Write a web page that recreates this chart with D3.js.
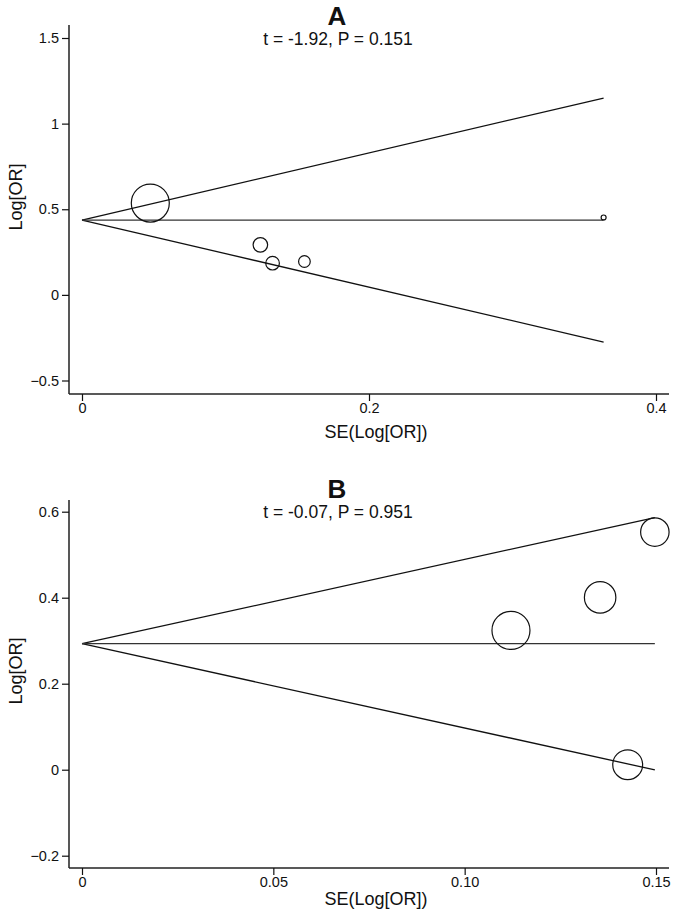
<!DOCTYPE html>
<html><head><meta charset="utf-8">
<script src="https://cdn.jsdelivr.net/npm/d3@7"></script>
<style>body{margin:0;background:#fff}svg{display:block}text{font-family:"Liberation Sans",Arial,sans-serif;fill:#111}</style>
</head><body><svg id="c" width="675" height="913"></svg>
<script>
// Panel A data
const seA = [0.0476, 0.1243, 0.1328, 0.155, 0.3635];
const logorA = [0.536, 0.292, 0.185, 0.195, 0.452];
const pooledA = 0.437;
const yTicksA = [-0.5, 0, 0.5, 1, 1.5];
const yLabelsA = ["\u22120.5", "0", "0.5", "1", "1.5"];
const xTicksA = [0, 0.2, 0.4];
const xLabelsA = ["0", "0.2", "0.4"];
const statA = "t = -1.92, P = 0.151";
// Panel B data
const seB = [0.1121, 0.1354, 0.1426, 0.1497];
const logorB = [0.324, 0.4007, 0.0116, 0.5526];
const pooledB = 0.293;
const yTicksB = [-0.2, 0, 0.2, 0.4, 0.6];
const yLabelsB = ["\u22120.2", "0", "0.2", "0.4", "0.6"];
const xTicksB = [0, 0.05, 0.10, 0.15];
const xLabelsB = ["0", "0.05", "0.10", "0.15"];
const statB = "t = -0.07, P = 0.951";

const svg = d3.select("#c");

function panel(cfg) {
  const g = svg.append("g");
  const x = d3.scaleLinear().domain([cfg.xTicks[0], cfg.xTicks[cfg.xTicks.length-1]]).range([82, 656]);
  const y = d3.scaleLinear().domain([cfg.yTicks[0], cfg.yTicks[cfg.yTicks.length-1]]).range([cfg.yBot, cfg.yTop]);
  const axisX0 = 69, axisX1 = 669;
  g.append("line").attr("x1", axisX0).attr("x2", axisX0).attr("y1", cfg.axTop).attr("y2", cfg.axBot)
    .attr("stroke", "#111").attr("stroke-width", 1.4);
  g.append("line").attr("x1", axisX0).attr("x2", axisX1).attr("y1", cfg.axBot).attr("y2", cfg.axBot)
    .attr("stroke", "#222").attr("stroke-width", 1.4);
  const ya = g.append("g").attr("transform", `translate(${axisX0},0)`)
    .call(d3.axisLeft(y).tickValues(cfg.yTicks).tickSize(7).tickPadding(3)
      .tickFormat((d, i) => cfg.yLabels[i]));
  ya.select(".domain").remove();
  ya.attr("font-size", 14.5);
  ya.selectAll("text").style("font-size", "14.5px").style("font-family", '"Liberation Sans",Arial,sans-serif').attr("fill", "#111");
  ya.selectAll("line").attr("stroke", "#111").attr("stroke-width", 1.2);
  const xa = g.append("g").attr("transform", `translate(0,${cfg.axBot})`)
    .call(d3.axisBottom(x).tickValues(cfg.xTicks).tickSize(7).tickPadding(2)
      .tickFormat((d, i) => cfg.xLabels[i]));
  xa.select(".domain").remove();
  xa.attr("font-size", 14.5);
  xa.selectAll("text").style("font-size", "14.5px").style("font-family", '"Liberation Sans",Arial,sans-serif').attr("fill", "#111");
  xa.selectAll("line").attr("stroke", "#111").attr("stroke-width", 1.2);
  g.append("text").attr("x", 376).attr("y", cfg.axBot + cfg.xLabOff).attr("text-anchor", "middle")
    .attr("font-size", 18).text("SE(Log[OR])");
  g.append("text").attr("transform", `translate(22,${cfg.yLabC}) rotate(-90)`).attr("text-anchor", "middle")
    .attr("font-size", 18).text("Log[OR]");
  g.append("text").attr("x", 337).attr("y", cfg.titleY).attr("text-anchor", "middle")
    .attr("font-size", 26).attr("font-weight", "bold").text(cfg.title);
  g.append("text").attr("x", 338).attr("y", cfg.titleY + 20).attr("text-anchor", "middle")
    .attr("font-size", 17.5).text(cfg.stat);
  const seMax = d3.max(cfg.se);
  const line = d3.line().x(d => x(d[0])).y(d => y(d[1]));
  const lines = [
    [[0, cfg.pooled], [seMax, cfg.pooled + 1.96 * seMax]],
    [[0, cfg.pooled], [seMax, cfg.pooled - 1.96 * seMax]],
    [[0, cfg.pooled], [seMax, cfg.pooled]]
  ];
  g.selectAll("path.fun").data(lines).join("path").attr("class", "fun")
    .attr("d", line).attr("fill", "none").attr("stroke", (d, i) => i === 2 ? "#333" : "#111").attr("stroke-width", 1.3);
  const w = cfg.se.map(s => 1 / (s * s));
  const r = d3.scaleSqrt().domain([0, d3.max(w)]).range([0, 19]);
  g.selectAll("circle").data(cfg.se.map((s, i) => ({ s, v: cfg.logor[i], w: w[i] }))).join("circle")
    .attr("cx", d => x(d.s)).attr("cy", d => y(d.v)).attr("r", d => r(d.w))
    .attr("fill", "none").attr("stroke", "#111").attr("stroke-width", 1.2);
}

panel({ se: seA, logor: logorA, pooled: pooledA, yTicks: yTicksA, yLabels: yLabelsA, xTicks: xTicksA, xLabels: xLabelsA,
  stat: statA, title: "A", yBot: 380.5, yTop: 38, axTop: 25, axBot: 394, xLabOff: 44, yLabC: 197, titleY: 25 });
panel({ se: seB, logor: logorB, pooled: pooledB, yTicks: yTicksB, yLabels: yLabelsB, xTicks: xTicksB, xLabels: xLabelsB,
  stat: statB, title: "B", yBot: 855.7, yTop: 511.7, axTop: 500, axBot: 868, xLabOff: 37, yLabC: 671, titleY: 498 });
</script></body></html>
